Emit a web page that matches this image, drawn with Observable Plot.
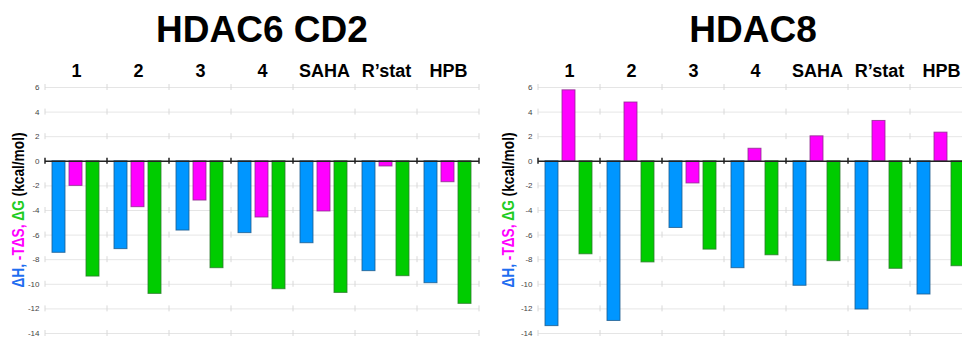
<!DOCTYPE html>
<html><head><meta charset="utf-8">
<script src="https://cdn.jsdelivr.net/npm/d3@7"></script>
<script src="https://cdn.jsdelivr.net/npm/@observablehq/plot@0.6"></script>
<style>
html,body{margin:0;padding:0;background:#fff;overflow:hidden}
#wrap{position:relative;width:962px;height:337px;overflow:hidden;font-family:"Liberation Sans",Arial,sans-serif}
.panel{position:absolute;top:0}
.panel svg{max-width:none !important}
.title{position:absolute;top:10.7px;width:400px;text-align:center;font:bold 37px/37px "Liberation Sans",Arial,sans-serif;color:#000;white-space:nowrap}
svg [aria-label="y-axis tick label"]{fill:#444}
svg [aria-label="fx-axis tick label"]{font-size:18px;font-weight:bold;fill:#000}
</style></head><body><div id="wrap"></div>
<script>
// ---- data ----
const categories = ["1", "2", "3", "4", "SAHA", "R\u2019stat", "HPB"];
const seriesKeys = ["dH", "mTdS", "dG"];
const yTicks = [-14, -12, -10, -8, -6, -4, -2, 0, 2, 4, 6];

const hdac6Title = "HDAC6 CD2";
const hdac6_dH   = [-7.44, -7.14, -5.63, -5.84, -6.66, -8.93, -9.91];
const hdac6_mTdS = [-2.00, -3.73, -3.19, -4.57, -4.08, -0.42, -1.70];
const hdac6_dG   = [-9.37, -10.78, -8.69, -10.40, -10.70, -9.34, -11.59];

const hdac8Title = "HDAC8";
const hdac8_dH   = [-13.40, -12.98, -5.42, -8.69, -10.12, -12.05, -10.83];
const hdac8_mTdS = [5.77, 4.78, -1.80, 1.02, 2.03, 3.28, 2.33];
const hdac8_dG   = [-7.56, -8.22, -7.18, -7.64, -8.12, -8.74, -8.53];

const fills   = {dH: "#0096ff", mTdS: "#ff00ff", dG: "#00cc00"};
const strokes = {dH: "#1b5a8c", mTdS: "#8c2a8c", dG: "#2a7a2a"};
const labelParts = [
  {t: "\u0394H,", c: "#1f6ef0"},
  {t: " -T\u0394S,", c: "#ff00ff"},
  {t: " \u0394G", c: "#22cc22"},
  {t: " (kcal/mol)", c: "#000"}
];

const wrap = document.getElementById("wrap");

function panel({title, values, left, width, marginLeft, labelX, titleCenter}) {
  const rows = seriesKeys.map((s, si) => categories.map((c, ci) => ({group: c, series: s, value: values[si][ci]})));
  const chart = Plot.plot({
    width, height: 337, marginTop: 87, marginBottom: 4, marginLeft, marginRight: 0,
    style: {fontFamily: "Liberation Sans, Arial, sans-serif", fontSize: "8px", background: "white", overflow: "visible", maxWidth: "none"},
    fx: {domain: categories, padding: 0, axis: "top", tickSize: 0, tickPadding: 11, label: null},
    x: {domain: seriesKeys, paddingInner: 0.21, paddingOuter: 0.365, axis: null},
    y: {domain: [-14, 6], ticks: yTicks, tickSize: 0, tickPadding: 6, label: null, grid: true, tickFormat: d => String(d)},
    marks: [
      ...seriesKeys.map((s, si) => Plot.barY(rows[si], {fx: "group", x: "series", y: "value", fill: fills[s], stroke: strokes[s], strokeWidth: 1, strokeOpacity: 0.8})),
      Plot.ruleY([0], {stroke: "#222", strokeWidth: 1.5})
    ]
  });
  chart.style.maxWidth = "none";
  const fx = chart.scale("fx"), y = chart.scale("y");
  const svg = d3.select(chart);
  const xs = categories.map(c => fx.apply(c));
  xs.push(xs[xs.length - 1] + fx.bandwidth);
  const g = svg.append("g").attr("aria-label", "boundary ticks");
  for (const xv of xs) for (const t of yTicks) {
    const yy = y.apply(t);
    g.append("line").attr("x1", xv).attr("x2", xv).attr("y1", yy - 3).attr("y2", yy + 3)
      .attr("stroke", t === 0 ? "#222" : "#d8d8d8").attr("stroke-width", t === 0 ? 1.5 : 1);
  }
  const yc = (y.apply(6) + y.apply(-14)) / 2;
  const lab = svg.append("text").attr("transform", `translate(${labelX},${yc}) rotate(-90)`)
    .attr("text-anchor", "middle").attr("dominant-baseline", "central")
    .attr("font-size", 16).attr("font-weight", "bold")
    .attr("textLength", 155).attr("lengthAdjust", "spacingAndGlyphs");
  for (const p of labelParts) lab.append("tspan").attr("fill", p.c).text(p.t);

  const div = document.createElement("div");
  div.className = "panel";
  div.style.left = left + "px";
  div.style.width = width + "px";
  div.appendChild(chart);
  wrap.appendChild(div);
  const tt = document.createElement("div");
  tt.className = "title";
  tt.style.left = (titleCenter - 200) + "px";
  tt.textContent = title;
  wrap.appendChild(tt);
}

panel({title: hdac6Title, values: [hdac6_dH, hdac6_mTdS, hdac6_dG], left: 0, width: 480, marginLeft: 44, labelX: 18, titleCenter: 262});
panel({title: hdac8Title, values: [hdac8_dH, hdac8_mTdS, hdac8_dG], left: 480, width: 493, marginLeft: 57, labelX: 28, titleCenter: 753});
</script></body></html>
